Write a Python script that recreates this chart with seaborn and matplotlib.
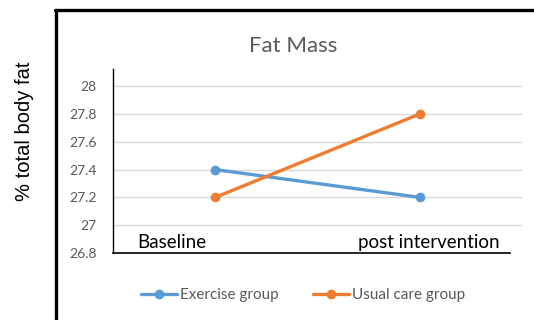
import pandas as pd
import seaborn as sns
import matplotlib.pyplot as plt
from matplotlib.lines import Line2D

# chart data
time_points = ['Baseline', 'post intervention']
exercise_vals = [27.4, 27.2]
usual_care_vals = [27.2, 27.8]
group_names = ['Exercise group', 'Usual care group']
y_ticks = [26.8, 27, 27.2, 27.4, 27.6, 27.8, 28]

df = pd.DataFrame({
    'time': time_points * 2,
    'value': exercise_vals + usual_care_vals,
    'group': [group_names[0]] * 2 + [group_names[1]] * 2,
})

sns.set_style('white')
plt.rcParams['font.family'] = ['Lato', 'DejaVu Sans']

colors = {'Exercise group': '#5b9bd5', 'Usual care group': '#ed7d31'}
gray = '#595959'

fig = plt.figure(figsize=(5.34, 3.2), dpi=100)
ax = fig.add_axes([113 / 534, 1 - 253 / 320, 409 / 534, 183.5 / 320])

sns.lineplot(data=df, x='time', y='value', hue='group', palette=colors,
             marker='o', markersize=7, markeredgewidth=0, linewidth=2.4,
             legend=False, ax=ax)

ax.set_xlim(-0.5, 1.5)
ax.set_ylim(26.8, 28.12)
ax.set_yticks(y_ticks)
ax.set_yticklabels([f'{t:g}' for t in y_ticks], color=gray, fontsize=10)
ax.set_xticks([])
ax.set_xlabel('')
ax.set_ylabel('')
ax.tick_params(axis='y', length=0, pad=12)
for t in y_ticks[1:]:
    ax.axhline(t, color='#d9d9d9', linewidth=1, zorder=0)

for side in ['top', 'right']:
    ax.spines[side].set_visible(False)
ax.spines['left'].set_color('black')
ax.spines['left'].set_linewidth(1)
ax.spines['bottom'].set_color('black')
ax.spines['bottom'].set_linewidth(1.2)
ax.spines['bottom'].set_bounds(-0.5, 1.44)

# category labels sit inside the plot, just above the axis
ax.text(-0.38, 26.812, time_points[0], fontsize=13.5, color='black',
        ha='left', va='bottom')
ax.text(0.70, 26.812, time_points[1], fontsize=13.5, color='black',
        ha='left', va='bottom')

fig.text(293 / 534, 1 - 46 / 320, 'Fat Mass', fontsize=16, color=gray,
         ha='center', va='center')
fig.text(25 / 534, 1 - 131 / 320, '% total body fat', fontsize=14.5,
         color='black', rotation=90, ha='center', va='center',
         family=['Liberation Sans', 'DejaVu Sans'])

# outer frame (left and top edges)
fig.add_artist(Line2D([56 / 534, 56 / 534], [0, 1 - 10 / 320],
                      transform=fig.transFigure, color='black', linewidth=2.4))
fig.add_artist(Line2D([55 / 534, 1], [1 - 10 / 320, 1 - 10 / 320],
                      transform=fig.transFigure, color='black', linewidth=2.4))

handles = [Line2D([0], [0], color=colors[g], marker='o', markersize=7,
                  markeredgewidth=0, linewidth=2.4) for g in group_names]
leg = fig.legend(handles, group_names, loc='center', ncol=2, frameon=False,
                 bbox_to_anchor=(303 / 534, 1 - 295 / 320), fontsize=11,
                 handlelength=2.4, handletextpad=0.2, columnspacing=2.2)
for txt in leg.get_texts():
    txt.set_color(gray)

fig.savefig('out.png', dpi=100)
